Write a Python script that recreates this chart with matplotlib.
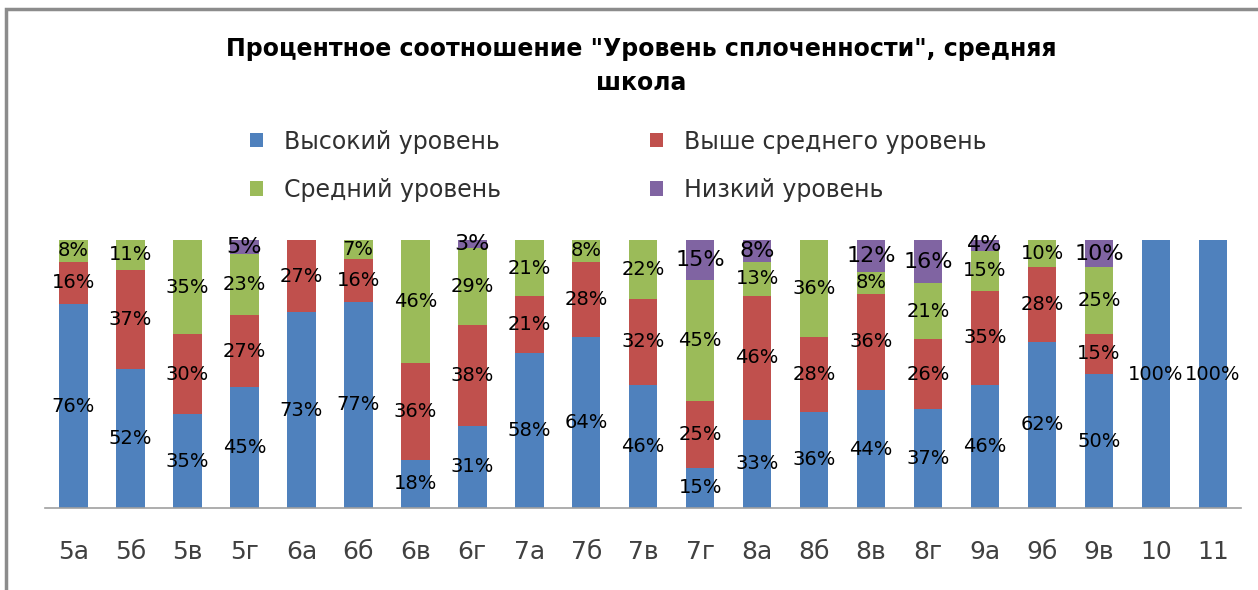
import numpy as np
import matplotlib.pyplot as plt
from matplotlib.patches import Rectangle

classes = ['5а', '5б', '5в', '5г', '6а', '6б', '6в', '6г', '7а', '7б', '7в',
           '7г', '8а', '8б', '8в', '8г', '9а', '9б', '9в', '10', '11']
high = [76, 52, 35, 45, 73, 77, 18, 31, 58, 64, 46, 15, 33, 36, 44, 37, 46, 62, 50, 100, 100]
above = [16, 37, 30, 27, 27, 16, 36, 38, 21, 28, 32, 25, 46, 28, 36, 26, 35, 28, 15, 0, 0]
middle = [8, 11, 35, 23, 0, 7, 46, 29, 21, 8, 22, 45, 13, 36, 8, 21, 15, 10, 25, 0, 0]
low = [0, 0, 0, 5, 0, 0, 0, 3, 0, 0, 0, 15, 8, 0, 12, 16, 4, 0, 10, 0, 0]

names = ['Высокий уровень', 'Выше среднего уровень', 'Средний уровень', 'Низкий уровень']
colors = ['#4F81BD', '#C0504D', '#9BBB59', '#8064A2']
title = 'Процентное соотношение "Уровень сплоченности", средняя\nшкола'

series = np.array([high, above, middle, low], dtype=float)
share = series / series.sum(axis=0) * 100  # 100% stacked like in Excel

fig = plt.figure(figsize=(12.58, 5.90), dpi=100)
ax = fig.add_axes([0.0358, 0.139, 0.951, 0.454])

x = np.arange(len(classes))
bottom = np.zeros(len(classes))
bars = []
for i in range(4):
    b = ax.bar(x, share[i], 0.5, bottom=bottom, color=colors[i], label=names[i])
    bars.append(b)
    fs = 16 if i == 3 else 14
    for j in range(len(classes)):
        if series[i, j] > 0:
            ax.text(x[j], bottom[j] + share[i, j] / 2, f"{int(series[i, j])}%",
                    ha='center', va='center', fontsize=fs, color='black')
    bottom += share[i]

ax.set_xlim(-0.5, len(classes) - 0.5)
ax.set_ylim(0, 100)
ax.set_yticks([])
for s in ['top', 'right', 'left']:
    ax.spines[s].set_visible(False)
ax.spines['bottom'].set_color('#a0a0a0')
ax.spines['bottom'].set_linewidth(1.2)
ax.set_xticks(x)
ax.set_xticklabels(classes, fontsize=18, color='#404040')
ax.tick_params(axis='x', length=0, pad=23)

fig.text(0.51, 0.888, title, ha='center', va='center', fontsize=17,
         fontweight='bold', linespacing=1.5)

order = [0, 2, 1, 3]
fig.legend([bars[k] for k in order], [names[k] for k in order], ncol=2,
           loc='center left', bbox_to_anchor=(0.182, 0.719), frameon=False,
           fontsize=17, handlelength=0.55, handleheight=0.55, handletextpad=0.9,
           columnspacing=6.3, labelspacing=1.03, labelcolor='#303030')

fig.patches.append(Rectangle((0.005, -0.05), 1.1, 1.035, transform=fig.transFigure,
                             fill=False, edgecolor='#8c8c8c', linewidth=2.5))

fig.savefig('out.png', dpi=100)
